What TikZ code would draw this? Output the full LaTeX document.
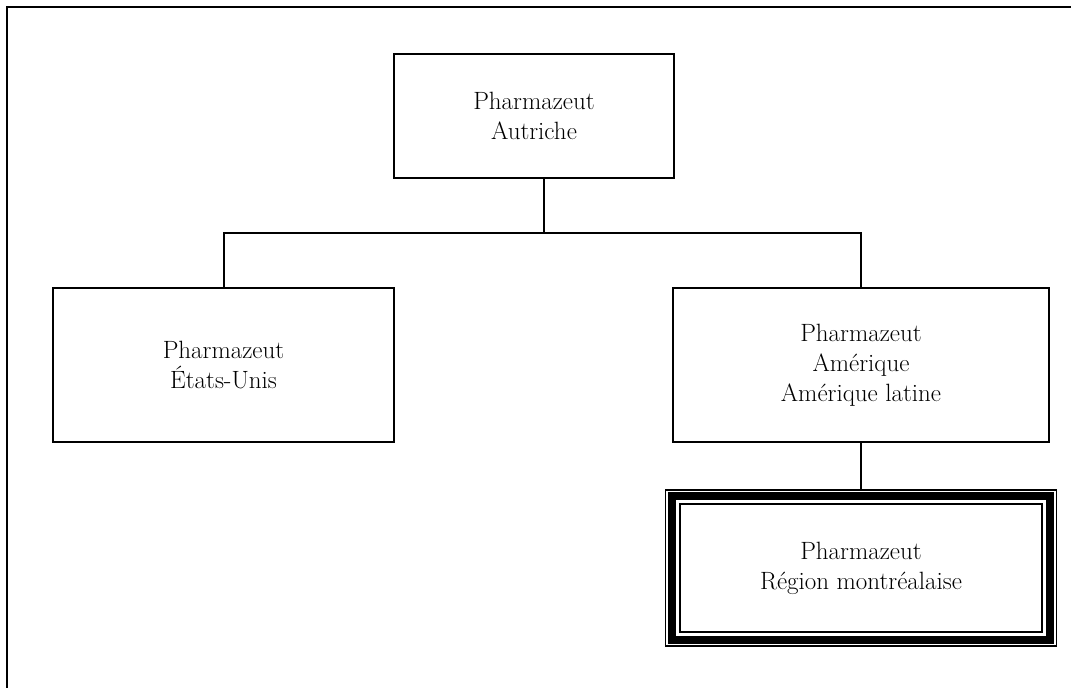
\documentclass[tikz,border=0pt]{standalone}
\usetikzlibrary{calc}
\usetikzlibrary{positioning}

\tikzset{
  orgbox/.style={draw,line width=2.2pt,align=center,inner sep=0pt,font=\fontsize{25}{30}\selectfont},
  orgline/.style={line width=2pt}
}

\begin{document}
\begin{tikzpicture}[x=1pt,y=-1pt]
				\useasboundingbox (0,0) rectangle (1071,688);
				\draw [line width=2.2pt] (7,688) -- (7,7) -- (1071,7);
				\node (aut) [orgbox,minimum width=280pt,minimum height=124pt] at (534,116) {Pharmazeut\\Autriche};
				\node (usa) [orgbox,minimum width=341pt,minimum height=154pt] at (223.5,365) {Pharmazeut\\États-Unis};
				\node (amer) [orgbox,minimum width=376pt,minimum height=154pt] at (861,365) {Pharmazeut\\Amérique\\Amérique latine};
				\node (regi) [orgbox,line width=1.7pt,minimum width=362.5pt,minimum height=127.5pt] at (861,568) {Pharmazeut\\Région montréalaise};
				% triple border round the last box
				\draw [line width=8pt] ([shift={(-7pt,7pt)}]regi.north west) rectangle ([shift={(7pt,-7pt)}]regi.south east);
				\draw [line width=1.7pt] ([shift={(-13.5pt,13.5pt)}]regi.north west) rectangle ([shift={(13.5pt,-13.5pt)}]regi.south east);
				\coordinate (bar) at (544,233);
				\draw [orgline] (aut.south -| bar) -- (bar); \draw [orgline] (usa.north) |- (bar) -| (amer.north);
				\draw [line width=1.2pt] (amer.south) -- ([yshift=14.25pt]regi.north);
			\end{tikzpicture}
\end{document}
